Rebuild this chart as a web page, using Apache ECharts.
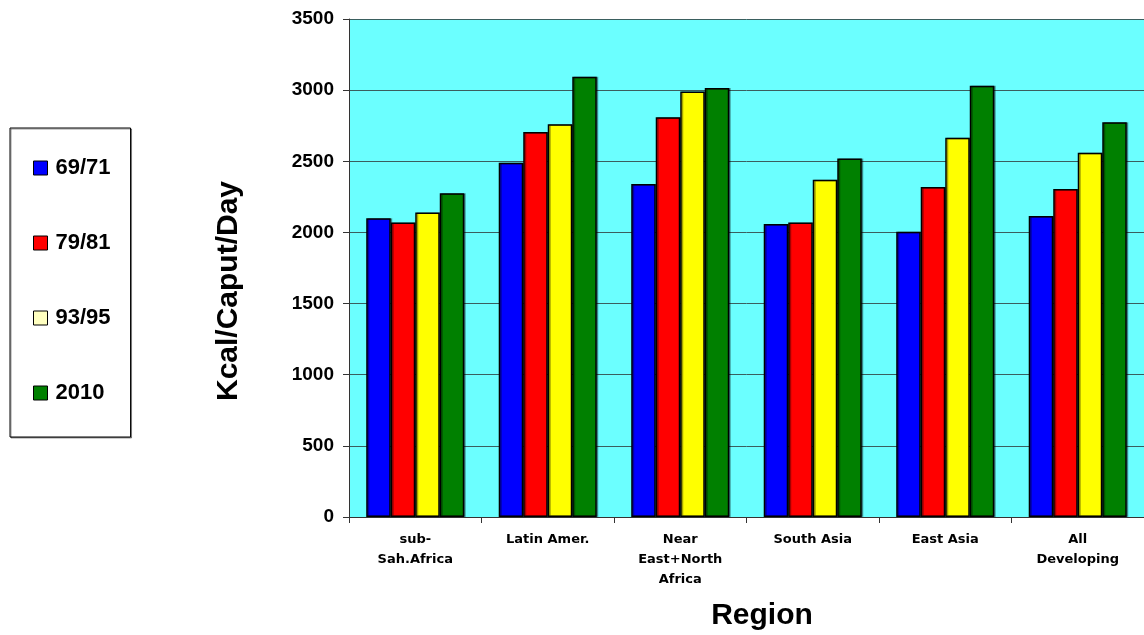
<!DOCTYPE html>
<html>
<head>
<meta charset="utf-8">
<script src="https://cdn.jsdelivr.net/npm/echarts@6/dist/echarts.min.js"></script>
<style>
html,body{margin:0;padding:0;background:#fff;}
#c{width:1144px;height:635px;}
</style>
</head>
<body>
<div id="c"></div>
<script>
var categories = ['sub-\nSah.Africa', 'Latin Amer.', 'Near\nEast+North\nAfrica', 'South Asia', 'East Asia', 'All\nDeveloping'];
var seriesNames = ['69/71', '79/81', '93/95', '2010'];
var v6971 = [2100, 2490, 2340, 2060, 2005, 2115];
var v7981 = [2070, 2705, 2810, 2070, 2320, 2305];
var v9395 = [2140, 2760, 2990, 2370, 2665, 2560];
var v2010 = [2275, 3095, 3015, 2520, 3030, 2775];
var yTicks = [0, 500, 1000, 1500, 2000, 2500, 3000, 3500];

var colors = ['#0000ff', '#ff0000', '#ffff00', '#008000'];
var legendColors = ['#0000ff', '#ff0000', '#ffffc0', '#008000'];
var values = [v6971, v7981, v9395, v2010];

var chart = echarts.init(document.getElementById('c'), null, {renderer: 'canvas'});
var font = '"Liberation Sans", Arial, sans-serif';
var wideFont = '"DejaVu Sans", "Liberation Sans", sans-serif';

var series = seriesNames.map(function (n, i) {
  return {
    name: n,
    type: 'bar',
    data: values[i],
    barGap: '0%',
    barCategoryGap: '26%',
    itemStyle: {
      color: colors[i],
      borderColor: '#000',
      borderWidth: 1.5,
      shadowColor: 'rgba(0,0,0,0.35)',
      shadowOffsetX: 1.5,
      shadowOffsetY: 0,
      shadowBlur: 0
    },
    emphasis: {disabled: true},
    animation: false
  };
});

chart.setOption({
  animation: false,
  grid: {left: 349, top: 19, right: -5, bottom: 118, show: true, backgroundColor: '#6bffff', borderWidth: 0},
  legend: {
    orient: 'vertical',
    left: 10,
    top: 128,
    padding: [29, 20, 33, 23],
    itemGap: 53,
    itemWidth: 14,
    itemHeight: 14,
    icon: 'rect',
    borderColor: '#000',
    borderWidth: 1,
    backgroundColor: '#fff',
    shadowColor: 'rgba(0,0,0,0.4)',
    shadowOffsetX: 1,
    shadowOffsetY: 1,
    textStyle: {fontFamily: font, fontWeight: 'bold', fontSize: 22, lineHeight: 22, color: '#000', padding: [0, 0, 0, 3]},
    data: seriesNames.map(function (n, i) {
      return {name: n, itemStyle: {color: legendColors[i], borderColor: '#000', borderWidth: 1}};
    }),
    selectedMode: false
  },
  xAxis: {
    type: 'category',
    data: categories,
    axisLine: {lineStyle: {color: '#333', width: 1}},
    axisTick: {show: true, length: 6, lineStyle: {color: '#333'}},
    axisLabel: {fontFamily: wideFont, fontWeight: 'bold', fontSize: 13, color: '#000', lineHeight: 20, margin: 13, interval: 0},
    splitLine: {show: false}
  },
  yAxis: {
    type: 'value',
    min: yTicks[0],
    max: yTicks[yTicks.length - 1],
    interval: 500,
    axisLine: {show: true, lineStyle: {color: '#333', width: 1}},
    axisTick: {show: true, length: 6, lineStyle: {color: '#333'}},
    axisLabel: {fontFamily: font, fontWeight: 'bold', fontSize: 19, color: '#000', margin: 15, formatter: function (v) { return String(v); }},
    splitLine: {show: true, lineStyle: {color: '#3a5f5f', width: 1}}
  },
  graphic: [
    {type: 'text', x: 229, y: 291, rotation: Math.PI / 2, style: {text: 'Kcal/Caput/Day', fontFamily: font, fontWeight: 'bold', fontSize: 30, fill: '#000', align: 'center', verticalAlign: 'middle'}},
    {type: 'text', x: 762, y: 616, style: {text: 'Region', fontFamily: font, fontWeight: 'bold', fontSize: 30, fill: '#000', align: 'center', verticalAlign: 'middle'}}
  ],
  series: series
});
</script>
</body>
</html>
